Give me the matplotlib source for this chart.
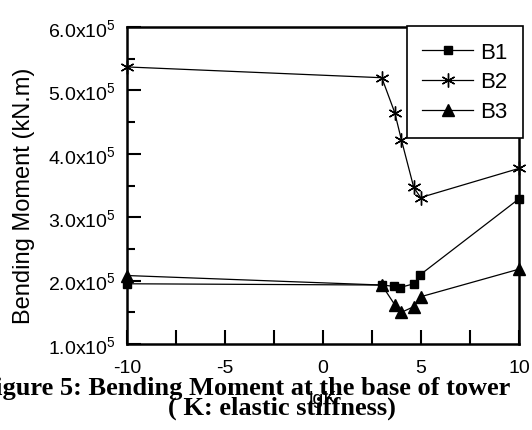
import matplotlib
matplotlib.use("Agg")
import matplotlib.pyplot as plt
from matplotlib.ticker import FuncFormatter, MultipleLocator

plt.rcParams['font.family'] = ['Liberation Sans', 'DejaVu Sans']
plt.rcParams['mathtext.fontset'] = 'custom'
plt.rcParams['mathtext.rm'] = 'Liberation Sans'
plt.rcParams['mathtext.it'] = 'Liberation Sans:italic'
plt.rcParams['mathtext.bf'] = 'Liberation Sans:bold'

# Data (bending moment in units of 1e5 kN.m)
lgk_b1 = [-10, 3, 3.62, 3.91, 4.64, 4.95, 10]
b1 = [1.95, 1.93, 1.91, 1.89, 1.95, 2.09, 3.29]
lgk_b2 = [-10, 3, 3.66, 4.0, 4.63, 4.98, 10]
b2 = [5.37, 5.20, 4.65, 4.22, 3.47, 3.31, 3.77]
lgk_b3 = [-10, 3, 3.66, 4.0, 4.64, 4.98, 10]
b3 = [2.08, 1.93, 1.62, 1.50, 1.59, 1.745, 2.18]

W, H = 532, 431
fig = plt.figure(figsize=(W / 100, H / 100), dpi=100)
ax = fig.add_axes([127 / W, 1 - 345 / H, (519 - 127) / W, (345 - 28) / H])

lw = 0.9
ax.plot(lgk_b1, b1, color='black', lw=lw, marker='s', ms=6, label='B1', clip_on=False)
ax.plot(lgk_b2, b2, color='black', lw=lw, marker=(6, 2, 0), ms=10, mew=1.0, label='B2', clip_on=False)
ax.plot(lgk_b3, b3, color='black', lw=lw, marker='^', ms=9, label='B3', clip_on=False)

ax.set_xlim(-10, 10)
ax.set_ylim(1.0, 6.0)
ax.xaxis.set_major_locator(MultipleLocator(2.5))
ax.yaxis.set_major_locator(MultipleLocator(1.0))
ax.yaxis.set_minor_locator(MultipleLocator(0.5))

def xfmt(v, pos):
    if abs(v - round(v / 5) * 5) < 1e-6:
        return '%d' % round(v)
    return ''

ax.xaxis.set_major_formatter(FuncFormatter(xfmt))
ax.yaxis.set_major_formatter(FuncFormatter(lambda v, p: r'%.1fx10$^{5}$' % v))

ax.tick_params(axis='both', which='major', direction='in', length=10, width=1.5,
               labelsize=14, pad=8, color='black')
ax.tick_params(axis='x', which='major', pad=11)
ax.tick_params(axis='y', which='minor', direction='in', length=6, width=1.5)
for s in ax.spines.values():
    s.set_linewidth(1.8)
    s.set_color('black')

ax.set_ylabel('Bending Moment (kN.m)', fontsize=17)
ax.yaxis.set_label_coords(-0.235, 0.47)
ax.set_xlabel('lgK', fontsize=14)
ax.xaxis.set_label_coords(0.5, -0.145)

leg = fig.legend(loc='upper right', bbox_to_anchor=(523 / W, 1 - 27 / H),
                 bbox_transform=fig.transFigure, borderaxespad=0,
                 fontsize=16, handlelength=2.3, labelspacing=0.4,
                 fancybox=False, edgecolor='black', framealpha=1,
                 borderpad=0.7, handletextpad=0.3)
leg.get_frame().set_linewidth(1.2)

fig.text(510 / W, 1 - 395 / H, 'Figure 5: Bending Moment at the base of tower',
         ha='right', va='baseline', fontsize=19, fontweight='bold',
         family='Liberation Serif')
fig.text(282 / W, 1 - 415 / H, '( K: elastic stiffness)',
         ha='center', va='baseline', fontsize=19, fontweight='bold',
         family='Liberation Serif')

fig.savefig('out.png', dpi=100)
